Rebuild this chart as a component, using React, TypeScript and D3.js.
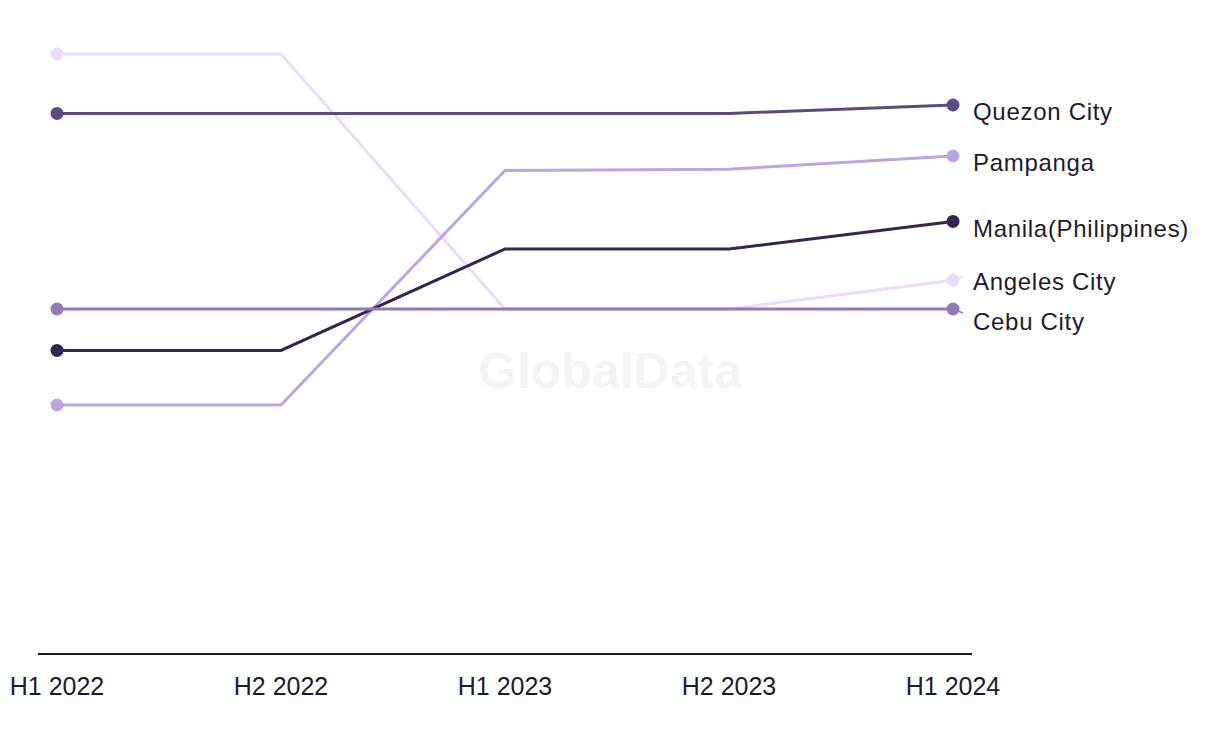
import React from "react";
import * as d3 from "d3";

const periods = ["H1 2022", "H2 2022", "H1 2023", "H2 2023", "H1 2024"];
const seriesNames = ["Angeles City", "Quezon City", "Pampanga", "Manila(Philippines)", "Cebu City"];
const angeles = [100, 100, 57.5, 57.5, 62.3];
const quezon = [90.1, 90.1, 90.1, 90.1, 91.5];
const pampanga = [41.5, 41.5, 80.6, 80.8, 83.0];
const manila = [50.6, 50.6, 67.5, 67.5, 72.1];
const cebu = [57.5, 57.5, 57.5, 57.5, 57.5];
const seriesColors = ["#ecdafb", "#5d4a85", "#bca5e0", "#36244f", "#9079b4"];

const W = 1220;
const H = 744;

export default function App() {
  const values = [angeles, quezon, pampanga, manila, cebu];
  const x = d3.scalePoint<string>().domain(periods).range([57, 953]);
  const y = d3.scaleLinear().domain([0, 100]).range([654, 54]);
  const line = d3
    .line<number>()
    .x((_, i) => x(periods[i]) as number)
    .y((d) => y(d));

  const baseOff = 9;
  const labels = seriesNames.map((name, i) => {
    const last = values[i][values[i].length - 1];
    return { name, i, dotY: y(last), ly: y(last) + baseOff };
  });
  labels.sort((a, b) => a.ly - b.ly);
  const gap = 40;
  for (let iter = 0; iter < 50; iter++) {
    let moved = false;
    for (let k = 1; k < labels.length; k++) {
      const a = labels[k - 1];
      const b = labels[k];
      const d = b.ly - a.ly;
      if (d < gap) {
        const shift = (gap - d) / 2;
        a.ly -= shift;
        b.ly += shift;
        moved = true;
      }
    }
    if (!moved) break;
  }

  const lastX = x(periods[periods.length - 1]) as number;

  return (
    <svg width={W} height={H} style={{ position: "absolute", left: 0, top: 0 }}>
      <rect width={W} height={H} fill="#ffffff" />
      <text
        x={610}
        y={375}
        textAnchor="middle"
        dominantBaseline="middle"
        fontFamily="Liberation Sans, Arial, sans-serif"
        fontWeight="bold"
        fontSize={50}
        fill="#f4f4f4"
      >
        GlobalData
      </text>
      <line x1={38} x2={972} y1={654} y2={654} stroke="#1c1b2e" strokeWidth={2} />
      {periods.map((p) => (
        <text
          key={p}
          x={x(p) as number}
          y={688}
          textAnchor="middle"
          dominantBaseline="middle"
          fontFamily="Liberation Sans, Arial, sans-serif"
          fontSize={25}
          fill="#1c1b2e"
        >
          {p}
        </text>
      ))}
      {labels.map((l) => {
        const off = l.ly - (l.dotY + baseOff);
        if (Math.abs(off) < 1.5) return null;
        const s = Math.sign(off);
        return (
          <line
            key={"lead" + l.i}
            x1={lastX}
            y1={l.dotY}
            x2={lastX + 10}
            y2={l.dotY + s * 4}
            stroke={seriesColors[l.i]}
            strokeWidth={1.5}
          />
        );
      })}
      {values.map((vals, i) => (
        <g key={seriesNames[i]}>
          <path d={line(vals) || ""} fill="none" stroke={seriesColors[i]} strokeWidth={3} />
          <circle cx={x(periods[0]) as number} cy={y(vals[0])} r={6.5} fill={seriesColors[i]} />
          <circle cx={lastX} cy={y(vals[vals.length - 1])} r={6.5} fill={seriesColors[i]} />
        </g>
      ))}
      {labels.map((l) => (
        <text
          key={"lab" + l.i}
          x={973}
          y={l.ly}
          dominantBaseline="middle"
          fontFamily="Liberation Sans, Arial, sans-serif"
          fontSize={24}
          letterSpacing={0.7}
          fill="#1c1b2e"
        >
          {l.name}
        </text>
      ))}
    </svg>
  );
}
